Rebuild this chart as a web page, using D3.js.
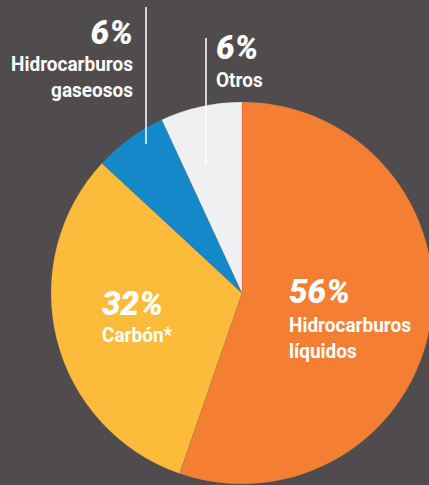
<!DOCTYPE html>
<html><head><meta charset="utf-8">
<script src="https://cdn.jsdelivr.net/npm/d3@7"></script>
<style>
html,body{margin:0;padding:0;background:#504c4d;}
svg{display:block;}
text{font-family:Roboto,"Liberation Sans",sans-serif;fill:#fff;}
</style></head><body>
<script>
const categories = ["Hidrocarburos líquidos", "Carbón*", "Hidrocarburos gaseosos", "Otros"];
const shares = [55.3, 31.6, 6.2, 6.9];
const pctLabels = ["56%", "32%", "6%", "6%"];
const nameLines = [["Hidrocarburos", "líquidos"], ["Carbón*"], ["Hidrocarburos", "gaseosos"], ["Otros"]];
const colors = ["#f47e32", "#fdbb3b", "#1389c9", "#eff0f2"];

const W = 429, H = 485;
const cx = 242, cy = 293, R = 191;
const svg = d3.select("body").append("svg").attr("width", W).attr("height", H);
svg.append("rect").attr("width", W).attr("height", H).attr("fill", "#504c4d");

const data = categories.map((c, i) => ({cat: c, v: shares[i], i}));
const pie = d3.pie().value(d => d.v).sort(null);
const arc = d3.arc().innerRadius(0).outerRadius(R);
const color = d3.scaleOrdinal().domain(categories).range(colors);

const g = svg.append("g").attr("transform", `translate(${cx},${cy})`);
g.selectAll("path").data(pie(data)).join("path")
  .attr("d", arc).attr("fill", d => color(d.data.cat))
  .attr("stroke", "rgba(120,110,100,0.35)").attr("stroke-width", 0.5);

// leader lines
const leaders = [
  {x: 146, y1: 7, y2: 144},
  {x: 206, y1: 38, y2: 165}
];
svg.selectAll("line.lead").data(leaders).join("line").attr("class", "lead")
  .attr("x1", d => d.x).attr("x2", d => d.x).attr("y1", d => d.y1).attr("y2", d => d.y2)
  .attr("stroke", "#fff").attr("stroke-width", 1.5);

// condensed look: measure reference words and squeeze horizontally
const pctFont = {size: 33, weight: 900, style: "italic"};
const nameFont = {size: 21, weight: 700, style: "normal"};
function measure(t, f) {
  const m = svg.append("text").attr("font-size", f.size).attr("font-weight", f.weight)
    .attr("font-style", f.style).text(t);
  const w = m.node().getComputedTextLength(); m.remove(); return w;
}
const kPct = 61 / measure("56%", pctFont);
const kName = 122 / measure("Hidrocarburos", nameFont);

function put(t, x, y, anchor, f, k) {
  svg.append("text").attr("transform", `translate(${x},${y}) scale(${k},1)`)
    .attr("text-anchor", anchor).attr("font-size", f.size).attr("font-weight", f.weight)
    .attr("font-style", f.style).text(t);
}

// label layout
const layout = [
  {x: 289, py: 303, ny: 332, gap: 25.5, anchor: "start"},
  {x: 102, py: 315, ny: 342, gap: 25.5, anchor: "start"},
  {x: 133, py: 44, ny: 71, gap: 26, anchor: "end"},
  {x: 216, py: 59, ny: 87, gap: 26, anchor: "start"}
];
data.forEach((d, i) => {
  const L = layout[i];
  put(pctLabels[i], L.x, L.py, L.anchor, pctFont, kPct);
  nameLines[i].forEach((t, j) => put(t, L.x, L.ny + j * L.gap, L.anchor, nameFont, kName));
});
</script>
</body></html>
